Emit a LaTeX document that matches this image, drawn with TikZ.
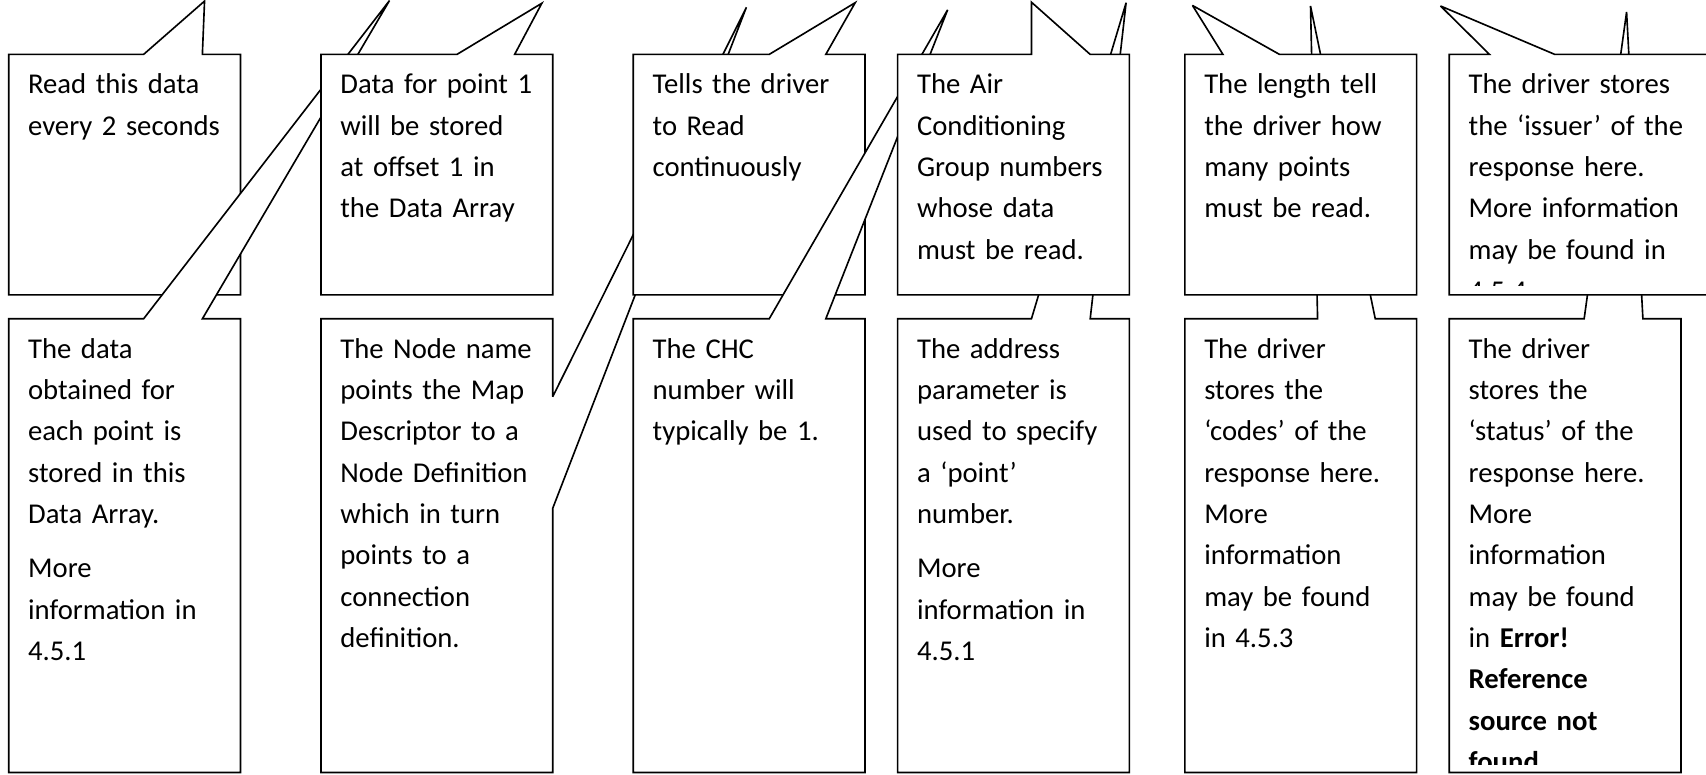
\documentclass[tikz,border=0pt]{standalone}
\usepackage{fontspec}
\setmainfont{Carlito}
\usepackage{tikz}
\tikzstyle{callout} = [draw=black,fill=white,line width=0.85pt,miter limit=4]
\tikzstyle{note} = [anchor=north west,inner sep=0pt,align=left,text width=45mm,font=\fontsize{15pt}{21.6pt}\selectfont]

\begin{document}
\begin{tikzpicture}[x=0.2mm,y=-0.2mm]
  \useasboundingbox (0,0) rectangle (1568,712);
  % column 1
  \draw[callout] (8,50) -- (132,50) -- (188,1) -- (186,50) -- (221,50) -- (221,271) -- (8,271) -- cycle;
  \node[note] (t1) at (25.5,59.4) {\strut Read this data\\every 2 seconds};
  \draw[callout] (8,293) -- (132,293) -- (358,0.5) -- (186,293) -- (221,293) -- (221,710) -- (8,710) -- cycle;
  \node[note] (b1) at (25.5,302.4) {\strut The data\\obtained for\\each point is\\stored in this\\Data Array.\\[2.4mm]More\\information in\\4.5.1};
  % column 2
  \draw[callout] (295,50) -- (420,50) -- (498,3) -- (473,50) -- (508,50) -- (508,271) -- (295,271) -- cycle;
  \node[note] (t2) at (312.5,59.4) {\strut Data for point 1\\will be stored\\at offset 1 in\\the Data Array};
  \draw[callout] (295,293) -- (508,293) -- (508,364.6) -- (686,6.7) -- (508,467.2) -- (508,710) -- (295,710) -- cycle;
  \node[note] (b2) at (312.5,302.4) {\strut The Node name\\points the Map\\Descriptor to a\\Node Definition\\which in turn\\points to a\\connection\\definition.};
  % column 3
  \draw[callout] (582,50) -- (707,50) -- (786,2.5) -- (759,50) -- (795,50) -- (795,271) -- (582,271) -- cycle;
  \node[note] (t3) at (599.5,59.4) {\strut Tells the driver\\to Read\\continuously};
  \draw[callout] (582,293) -- (707,293) -- (871,9) -- (759,293) -- (795,293) -- (795,710) -- (582,710) -- cycle;
  \node[note] (b3) at (599.5,302.4) {\strut The CHC\\number will\\typically be 1.};
  % column 4
  \draw[callout] (825,293) -- (948,293) -- (1035,2.5) -- (1002,293) -- (1038,293) -- (1038,710) -- (825,710) -- cycle;
  \node[note] (b4) at (842.5,302.4) {\strut The address\\parameter is\\used to specify\\a ‘point’\\number.\\[2.4mm]More\\information in\\4.5.1};
  \draw[callout] (825,50) -- (948,50) -- (948,2) -- (1002,50) -- (1038,50) -- (1038,271) -- (825,271) -- cycle;
  \node[note] (t4) at (842.5,59.4) {\strut The Air\\Conditioning\\Group numbers\\whose data\\must be read.};
  % column 5
  \draw[callout] (1089,293) -- (1211,293) -- (1204.5,5.5) -- (1264,293) -- (1302,293) -- (1302,710) -- (1089,710) -- cycle;
  \node[note] (b5) at (1106.5,302.4) {\strut The driver\\stores the\\‘codes’ of the\\response here.\\More\\information\\may be found\\in 4.5.3};
  \draw[callout] (1089,50) -- (1124,50) -- (1096,5) -- (1176,50) -- (1302,50) -- (1302,271) -- (1089,271) -- cycle;
  \node[note] (t5) at (1106.5,59.4) {\strut The length tell\\the driver how\\many points\\must be read.};
  % column 6
  \draw[callout] (1332,293) -- (1456,293) -- (1495,11) -- (1510,293) -- (1545,293) -- (1545,710) -- (1332,710) -- cycle;
  \begin{scope}
    \clip (1332,293) rectangle (1545,703);
    \node[note] (b6) at (1349.5,302.4) {\strut The driver\\stores the\\‘status’ of the\\response here.\\More\\information\\may be found\\in \textbf{Error!}\\\textbf{Reference}\\\textbf{source not}\\\textbf{found}.};
  \end{scope}
  \draw[callout] (1332,50) -- (1369,50) -- (1324,5.5) -- (1429,50) -- (1590,50) -- (1590,271) -- (1332,271) -- cycle;
  \begin{scope}
    \clip (1332,50) rectangle (1590,262);
    \node[note] (t6) at (1349.5,59.4) {\strut The driver stores\\the ‘issuer’ of the\\response here.\\More information\\may be found in\\4.5.4};
  \end{scope}
\end{tikzpicture}
\end{document}
